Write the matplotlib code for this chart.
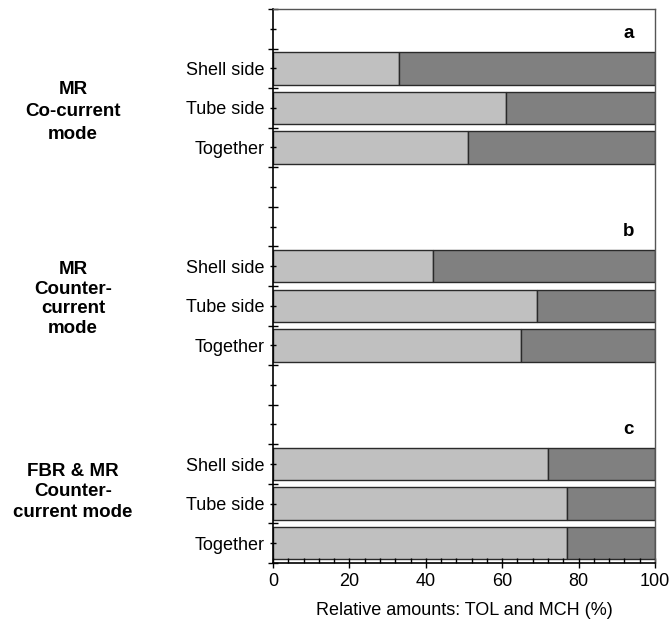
import matplotlib
matplotlib.use("Agg")
import matplotlib.pyplot as plt
import numpy as np

plt.rcParams['font.family'] = ['Liberation Sans', 'DejaVu Sans']

rows = ["Shell side", "Tube side", "Together"]
panels = ["a", "b", "c"]
groups = ["MR\nCo-current\nmode", "MR\nCounter-\ncurrent\nmode", "FBR & MR\nCounter-\ncurrent mode"]
# TOL share (%) per panel, rows in order Shell / Tube / Together
tol = [[33, 61, 51],
       [42, 69, 65],
       [72, 77, 77]]

light = "#c0c0c0"
dark = "#808080"
edge = "#2a2a2a"

fig = plt.figure(figsize=(6.7, 6.19), dpi=100)
ax = fig.add_axes([0.4075, 0.0905, 0.5701, 0.895])

nslot = 14
# vertical centre of the group labels (figure fraction) and their line spacing
group_y = [1 - 112 / 619, 1 - 299 / 619, 1 - 492 / 619]
group_ls = [1.4, 1.2, 1.3]

ylabels = [""] * nslot
for g in range(3):
    start = 5 * g
    ypos = np.arange(start + 1, start + 4) + 0.5
    vals = np.array(tol[g])
    ax.barh(ypos, vals, height=0.82, color=light, edgecolor=edge, linewidth=1)
    ax.barh(ypos, 100 - vals, left=vals, height=0.82, color=dark, edgecolor=edge, linewidth=1)
    ax.text(93, start + 0.62, panels[g], ha="center", va="center", fontsize=13.5, fontweight="bold")
    for k, r in enumerate(rows):
        ylabels[start + 1 + k] = r
    fig.text(0.109, group_y[g], groups[g], ha="center", va="center",
             fontsize=13.5, fontweight="bold", linespacing=group_ls[g])

ax.set_xlim(0, 100)
ax.set_ylim(nslot, 0)
ax.set_yticks(np.arange(0, nslot + 1))
ax.set_yticklabels([])
ax.set_yticks(np.arange(nslot) + 0.5, minor=True)
ax.set_yticklabels(ylabels, minor=True, fontsize=13)
ax.set_xticks(np.arange(0, 101, 20))
ax.set_xticks(np.arange(0, 101, 4), minor=True)
ax.tick_params(axis="x", which="major", direction="inout", length=7, width=1, labelsize=13, pad=4)
ax.tick_params(axis="x", which="minor", direction="in", length=3.5, width=1)
ax.tick_params(axis="y", which="major", direction="inout", length=7, width=1)
ax.tick_params(axis="y", which="minor", direction="inout", length=4, width=1, pad=4)
for s in ["top", "right"]:
    ax.spines[s].set_color("#555555")
    ax.spines[s].set_linewidth(1)
for s in ["left", "bottom"]:
    ax.spines[s].set_linewidth(1.2)
ax.set_xlabel("Relative amounts: TOL and MCH (%)", fontsize=13, labelpad=8)

fig.savefig("out.png", dpi=100)
